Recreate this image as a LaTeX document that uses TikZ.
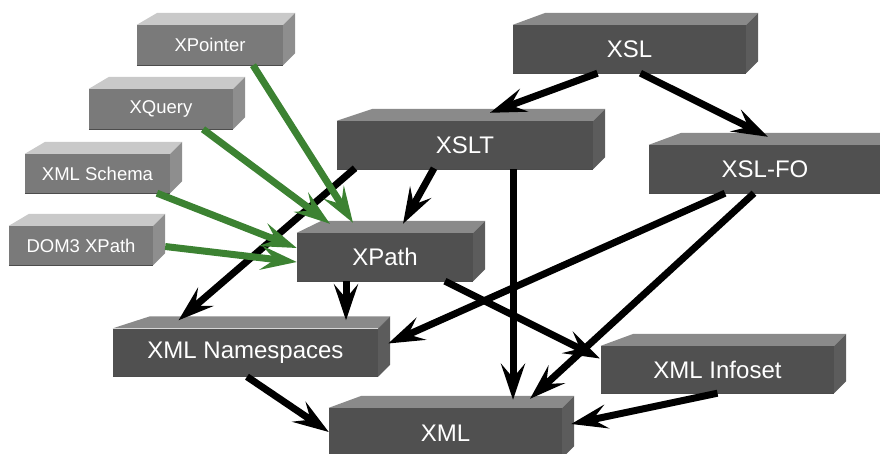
\documentclass[tikz,border=0pt]{standalone}
\usepackage{fontspec}
\setmainfont{Liberation Sans}
\usetikzlibrary{arrows.meta,calc}
\definecolor{darkfront}{HTML}{505050}
\definecolor{darktop}{HTML}{8A8A8A}
\definecolor{darkside}{HTML}{5C5C5C}
\definecolor{lightfront}{HTML}{7A7A7A}
\definecolor{lighttop}{HTML}{C9C9C9}
\definecolor{lightside}{HTML}{8E8E8E}
\definecolor{linkgreen}{HTML}{3C8232}
\tikzset{
  slab/.style={rectangle,inner sep=0pt,minimum height=48pt,fill=darkfront,text=white,
    font=\fontsize{24}{28}\selectfont},
  lightslab/.style={slab,minimum height=40pt,fill=lightfront,font=\fontsize{18.5}{22}\selectfont},
  link/.style={line width=7pt,-{Stealth[length=36pt,width=24pt,inset=14pt]}},
  greenlink/.style={link,draw=linkgreen},
}
\begin{document}
\begin{tikzpicture}[x=1pt,y=-1pt]
\useasboundingbox (0,0) rectangle (880,453);
\clip (0,0) rectangle (880,453);
% boxes
\node[slab,minimum width=233pt] (xsl) at (629.5,49) {XSL};
\node[slab,minimum width=256pt] (xslt) at (465,145) {XSLT};
\node[slab,minimum width=232pt] (xslfo) at (765,169) {XSL-FO};
\node[slab,minimum width=176pt] (xpath) at (385,257) {XPath};
\node[slab,minimum width=265pt] (ns) at (245.5,352.5) {XML Namespaces};
\node[slab,minimum width=233pt,minimum height=50pt] (xml) at (445.5,433) {XML};
\node[slab,minimum width=233pt,minimum height=47pt] (infoset) at (717.5,369.5) {XML Infoset};
\node[lightslab,minimum width=146pt] (xpointer) at (210,45) {XPointer};
\node[lightslab,minimum width=144pt] (xquery) at (161,109) {XQuery};
\node[lightslab,minimum width=145pt,minimum height=39pt] (schema) at (97.5,173.5) {XML Schema};
\node[lightslab,minimum width=144pt,minimum height=39pt] (dom) at (81,245.5) {DOM3 XPath};
% top and side faces
\foreach \n/\t/\s in {xsl/darktop/darkside,xslt/darktop/darkside,xslfo/darktop/darkside,
  xpath/darktop/darkside,ns/darktop/darkside,xml/darktop/darkside,infoset/darktop/darkside,
  xpointer/lighttop/lightside,xquery/lighttop/lightside,schema/lighttop/lightside,dom/lighttop/lightside} {
  \fill[\t] (\n.north west) -- ($(\n.north west)!0.14!(\n.north east)+(0,-12)$)
    -- ($(\n.north east)+(12,-12)$) -- (\n.north east) -- cycle;
  \fill[\s] (\n.north east) -- ++(12,-12) -- ($(\n.south east)+(12,-12)$) -- (\n.south east) -- cycle;
  \draw[black!70,line width=1pt] (\n.south west) -- (\n.south east);
}
% black arrows
\draw[link] ($(xsl.south)+(-32,0)$) -- ($(xslt.north)+(25,-8)$);
\draw[link] ($(xsl.south)+(11,0)$) -- ($(xslfo.north)+(3,-8)$);
\draw[link] ($(xslt.south)+(-31,-1)$) -- ($(xpath.north)+(18,-9)$);
\draw[link] ($(xslt.south)+(-110,-1)$) -- ($(ns.north)+(-67,-8)$);
\draw[link] ($(xslt.south)+(48,0)$) -- ($(xml.north)+(67.5,-8)$);
\draw[link] ($(xpath.south)+(-39,0)$) -- ($(ns.north)+(100.5,-8)$);
\draw[link] ($(xpath.south)+(60,0)$) -- ($(infoset.west)+(-1,-11)$);
\draw[link] ($(xslfo.south)+(-40,0)$) -- ($(ns.east)+(10,-9)$);
\draw[link] ($(xslfo.south)+(-11,0)$) -- ($(xml.north)+(84.5,-9)$);
\draw[link] ($(ns.south)+(1.5,0)$) -- ($(xml.west)+(0,-1)$);
\draw[link] (infoset.south) -- ($(xml.east)+(9,-9)$);
% green arrows
\draw[greenlink] ($(xpointer.south)+(43,0)$) -- ($(xpath.north)+(-32,-10)$);
\draw[greenlink] ($(xquery.south)+(42,0)$) -- ($(xpath.north)+(-55,-9)$);
\draw[greenlink] ($(schema.south)+(59.5,0)$) -- ($(xpath.west)+(0,-9)$);
\draw[greenlink] ($(dom.east)+(12,1)$) -- ($(xpath.west)+(0,5)$);
\end{tikzpicture}
\end{document}
